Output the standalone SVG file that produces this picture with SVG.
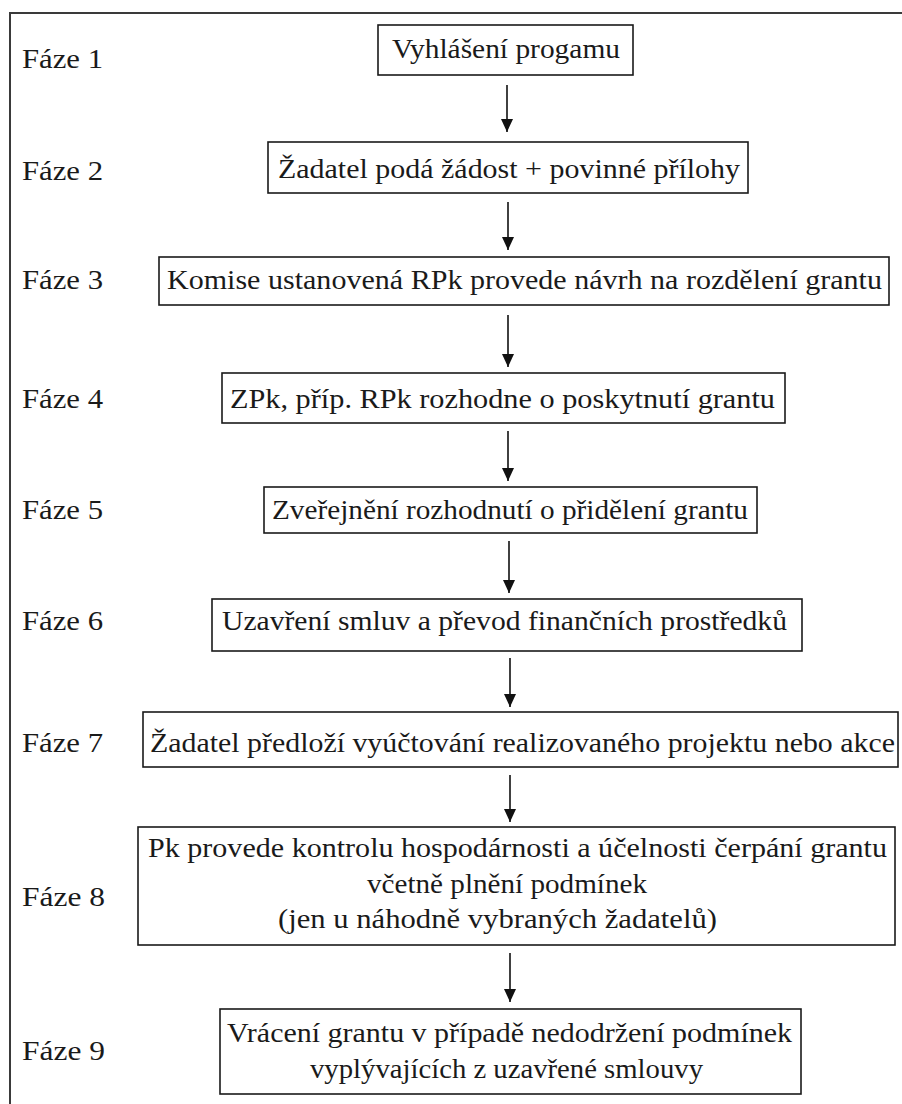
<svg xmlns="http://www.w3.org/2000/svg" width="902" height="1104" viewBox="0 0 902 1104">
  <style>
    text { font-family: "Liberation Serif", "Times New Roman", serif; font-size: 27px; fill: #1a1a1a; }
    .box { fill: #ffffff; stroke: #1a1a1a; stroke-width: 1.6; }
    .frame { fill: none; stroke: #3a3a3a; stroke-width: 2; }
    .conn { stroke: #111111; stroke-width: 1.6; fill: none; }
  </style>
  <defs>
    <!-- filled arrowhead, drawn pointing along +x so orient="auto" turns it down the line -->
    <marker id="head" markerUnits="userSpaceOnUse" markerWidth="14" markerHeight="14" refX="13" refY="6" orient="auto" viewBox="0 0 14 12">
      <path d="M0,0 L13,6 L0,12 Z" fill="#111111"/>
    </marker>
  </defs>

  <rect width="902" height="1104" fill="#ffffff"/>
  <!-- outer frame, running past the right and bottom edges -->
  <rect class="frame" x="10" y="13" width="900" height="1100"/>

  <!-- phase labels -->
  <g id="phase-labels">
    <text x="22" y="68" textLength="81" lengthAdjust="spacingAndGlyphs">Fáze 1</text>
    <text x="22" y="180" textLength="81" lengthAdjust="spacingAndGlyphs">Fáze 2</text>
    <text x="22" y="289" textLength="81" lengthAdjust="spacingAndGlyphs">Fáze 3</text>
    <text x="22" y="408" textLength="81" lengthAdjust="spacingAndGlyphs">Fáze 4</text>
    <text x="22" y="519" textLength="81" lengthAdjust="spacingAndGlyphs">Fáze 5</text>
    <text x="22" y="630" textLength="81" lengthAdjust="spacingAndGlyphs">Fáze 6</text>
    <text x="22" y="752" textLength="81" lengthAdjust="spacingAndGlyphs">Fáze 7</text>
    <text x="22" y="906" textLength="83" lengthAdjust="spacingAndGlyphs">Fáze 8</text>
    <text x="22" y="1060" textLength="83" lengthAdjust="spacingAndGlyphs">Fáze 9</text>
  </g>

  <g id="step1">
    <rect class="box" x="378" y="25" width="255" height="50"/>
    <text x="392" y="58" textLength="228" lengthAdjust="spacingAndGlyphs">Vyhlášení progamu</text>
  </g>
  <g id="step2">
    <rect class="box" x="268" y="142" width="480" height="51"/>
    <text x="278" y="178" textLength="462" lengthAdjust="spacingAndGlyphs">Žadatel podá žádost + povinné přílohy</text>
  </g>
  <g id="step3">
    <rect class="box" x="159" y="257" width="730" height="48"/>
    <text x="167" y="289" textLength="715" lengthAdjust="spacingAndGlyphs">Komise ustanovená RPk provede návrh na rozdělení grantu</text>
  </g>
  <g id="step4">
    <rect class="box" x="222" y="373" width="563" height="50"/>
    <text x="230" y="408" textLength="545" lengthAdjust="spacingAndGlyphs">ZPk, příp. RPk rozhodne o poskytnutí grantu</text>
  </g>
  <g id="step5">
    <rect class="box" x="264" y="487" width="493" height="46"/>
    <text x="272" y="519" textLength="476" lengthAdjust="spacingAndGlyphs">Zveřejnění rozhodnutí o přidělení grantu</text>
  </g>
  <g id="step6">
    <rect class="box" x="212" y="599" width="590" height="52"/>
    <text x="222" y="630" textLength="565" lengthAdjust="spacingAndGlyphs">Uzavření smluv a převod finančních prostředků</text>
  </g>
  <g id="step7">
    <rect class="box" x="143" y="712" width="755" height="55"/>
    <text x="150" y="752" textLength="745" lengthAdjust="spacingAndGlyphs">Žadatel předloží vyúčtování realizovaného projektu nebo akce</text>
  </g>
  <g id="step8">
    <rect class="box" x="138" y="827" width="757" height="118"/>
    <text x="148" y="857" textLength="739" lengthAdjust="spacingAndGlyphs">Pk provede kontrolu hospodárnosti a účelnosti čerpání grantu</text>
    <text x="367" y="893" textLength="280" lengthAdjust="spacingAndGlyphs">včetně plnění podmínek</text>
    <text x="278" y="928" textLength="439" lengthAdjust="spacingAndGlyphs">(jen u náhodně vybraných žadatelů)</text>
  </g>
  <g id="step9">
    <rect class="box" x="220" y="1009" width="581" height="85"/>
    <text x="227" y="1042" textLength="565" lengthAdjust="spacingAndGlyphs">Vrácení grantu v případě nedodržení podmínek</text>
    <text x="310" y="1078" textLength="393" lengthAdjust="spacingAndGlyphs">vyplývajících z uzavřené smlouvy</text>
  </g>

  <!-- connectors between consecutive steps -->
  <g id="connectors">
    <line class="conn" x1="507" y1="85" x2="507" y2="132" marker-end="url(#head)"/>
    <line class="conn" x1="508" y1="202" x2="508" y2="250" marker-end="url(#head)"/>
    <line class="conn" x1="508" y1="315" x2="508" y2="367" marker-end="url(#head)"/>
    <line class="conn" x1="508" y1="431" x2="508" y2="481" marker-end="url(#head)"/>
    <line class="conn" x1="509" y1="541" x2="509" y2="593" marker-end="url(#head)"/>
    <line class="conn" x1="510" y1="658" x2="510" y2="707" marker-end="url(#head)"/>
    <line class="conn" x1="510" y1="775" x2="510" y2="822" marker-end="url(#head)"/>
    <line class="conn" x1="510" y1="953" x2="510" y2="1002" marker-end="url(#head)"/>
  </g>
</svg>
